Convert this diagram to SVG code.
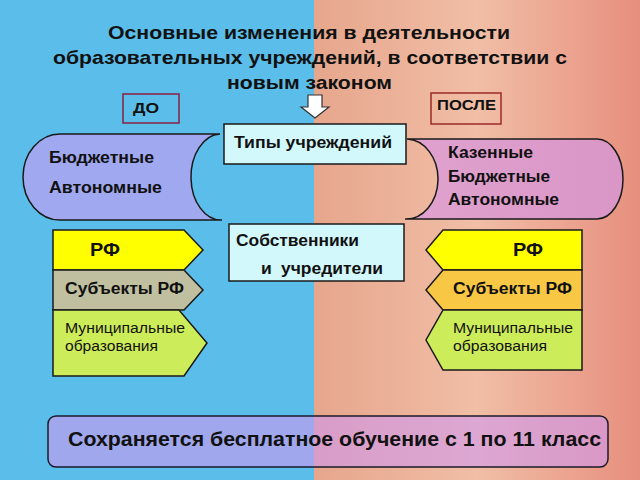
<svg xmlns="http://www.w3.org/2000/svg" width="640" height="480" viewBox="0 0 640 480">
<defs>
<linearGradient id="bgR" x1="0" y1="0" x2="1" y2="0">
<stop offset="0" stop-color="#e6a68c"/>
<stop offset="0.5" stop-color="#f1bea6"/>
<stop offset="1" stop-color="#e78f7e"/>
</linearGradient>
<linearGradient id="pinkG" x1="0" y1="0" x2="1" y2="0">
<stop offset="0" stop-color="#e0a2cf"/>
<stop offset="1" stop-color="#d996c6"/>
</linearGradient>
<style>
.t{font-family:"Liberation Sans",Arial,sans-serif;fill:#111}
.b{font-weight:bold}
.ln{stroke:#1a1a1a;stroke-width:1.5}
</style>
</defs>
<rect x="0" y="0" width="314" height="480" fill="#5bbde9"/>
<rect x="314" y="0" width="326" height="480" fill="url(#bgR)"/>

<g id="title">
<text class="t b" x="108" y="39" font-size="18.5" textLength="402" lengthAdjust="spacingAndGlyphs">Основные изменения в деятельности</text>
<text class="t b" x="53" y="64" font-size="18.5" textLength="514" lengthAdjust="spacingAndGlyphs">образовательных учреждений, в соответствии с</text>
<text class="t b" x="227" y="89" font-size="18.5" textLength="165" lengthAdjust="spacingAndGlyphs">новым законом</text>
</g>

<g id="do">
<rect x="123" y="94" width="56" height="29" fill="none" stroke="#8a2040" stroke-width="1.5"/>
<text class="t b" x="133" y="113" font-size="14.5" textLength="26" lengthAdjust="spacingAndGlyphs">ДО</text>
</g>
<g id="posle">
<rect x="431" y="93" width="70" height="31" fill="none" stroke="#9a2a2a" stroke-width="1.5"/>
<text class="t b" x="437" y="110" font-size="14.5" textLength="59" lengthAdjust="spacingAndGlyphs">ПОСЛЕ</text>
</g>

<g id="arrow">
<path d="M308,95 L322,95 L322,107 L329,107 L315,118 L301,107 L308,107 Z" fill="#ffffff" stroke="#333" stroke-width="1.2"/>
</g>

<g id="left-types">
<path class="ln" d="M60,134 L220,134 A30,43 0 0 0 222,220 L60,220 A37,43 0 0 1 60,134 Z" fill="#a0a8f0"/>
<text class="t b" x="49" y="163" font-size="16" textLength="105" lengthAdjust="spacingAndGlyphs">Бюджетные</text>
<text class="t b" x="49" y="193" font-size="16" textLength="113" lengthAdjust="spacingAndGlyphs">Автономные</text>
</g>

<g id="right-types">
<path class="ln" d="M407,139 L597,139 A26,40 0 0 1 597,219 L405,219 A32,40 0 0 0 407,139 Z" fill="url(#pinkG)"/>
<text class="t b" x="448" y="158" font-size="16" textLength="85" lengthAdjust="spacingAndGlyphs">Казенные</text>
<text class="t b" x="448" y="182" font-size="16" textLength="102" lengthAdjust="spacingAndGlyphs">Бюджетные</text>
<text class="t b" x="448" y="205" font-size="16" textLength="111" lengthAdjust="spacingAndGlyphs">Автономные</text>
</g>

<g id="types">
<rect class="ln" x="224" y="124" width="182" height="40" fill="#d2f8fc"/>
<text class="t b" x="234" y="148" font-size="16" textLength="158" lengthAdjust="spacingAndGlyphs">Типы учреждений</text>
</g>

<g id="owners">
<rect class="ln" x="229" y="224" width="175" height="57" fill="#d2f8fc"/>
<text class="t b" x="236" y="246" font-size="16" textLength="123" lengthAdjust="spacingAndGlyphs">Собственники</text>
<text class="t b" x="261" y="274" font-size="16" word-spacing="4" textLength="122" lengthAdjust="spacingAndGlyphs">и учредители</text>
</g>

<g id="l-rf">
<path class="ln" d="M53,230 L184,230 L203,250 L184,270 L53,270 Z" fill="#ffff00"/>
<text class="t b" x="90" y="256" font-size="17.5" textLength="30" lengthAdjust="spacingAndGlyphs">РФ</text>
</g>
<g id="l-subj">
<path class="ln" d="M53,270 L184,270 L203,290 L184,310 L53,310 Z" fill="#c0c0a0"/>
<text class="t b" x="65" y="294" font-size="16" textLength="119" lengthAdjust="spacingAndGlyphs">Субъекты РФ</text>
</g>
<g id="l-mun">
<path class="ln" d="M53,310 L179,310 L207,343 L184,376 L53,376 Z" fill="#cdec5a"/>
<text class="t" x="65" y="333" font-size="14" textLength="120" lengthAdjust="spacingAndGlyphs">Муниципальные</text>
<text class="t" x="65" y="351" font-size="14" textLength="93" lengthAdjust="spacingAndGlyphs">образования</text>
</g>

<g id="r-rf">
<path class="ln" d="M582,230 L443,230 L426,250 L443,270 L582,270 Z" fill="#ffff00"/>
<text class="t b" x="513" y="256" font-size="17.5" textLength="30" lengthAdjust="spacingAndGlyphs">РФ</text>
</g>
<g id="r-subj">
<path class="ln" d="M582,270 L443,270 L426,290 L443,310 L582,310 Z" fill="#f8c844"/>
<text class="t b" x="453" y="294" font-size="16" textLength="119" lengthAdjust="spacingAndGlyphs">Субъекты РФ</text>
</g>
<g id="r-mun">
<path class="ln" d="M582,310 L443,310 L426,340 L443,370 L582,370 Z" fill="#cdec5a"/>
<text class="t" x="453" y="333" font-size="14" textLength="120" lengthAdjust="spacingAndGlyphs">Муниципальные</text>
<text class="t" x="453" y="351" font-size="14" textLength="94" lengthAdjust="spacingAndGlyphs">образования</text>
</g>

<g id="banner">
<rect x="48" y="416" width="560" height="51" rx="8" fill="#cf98f0" fill-opacity="0.6" stroke="#1a1a2a" stroke-width="1.5"/>
<text class="t b" x="68" y="446" font-size="20" textLength="533" lengthAdjust="spacingAndGlyphs">Сохраняется бесплатное обучение с 1 по 11 класс</text>
</g>
</svg>
